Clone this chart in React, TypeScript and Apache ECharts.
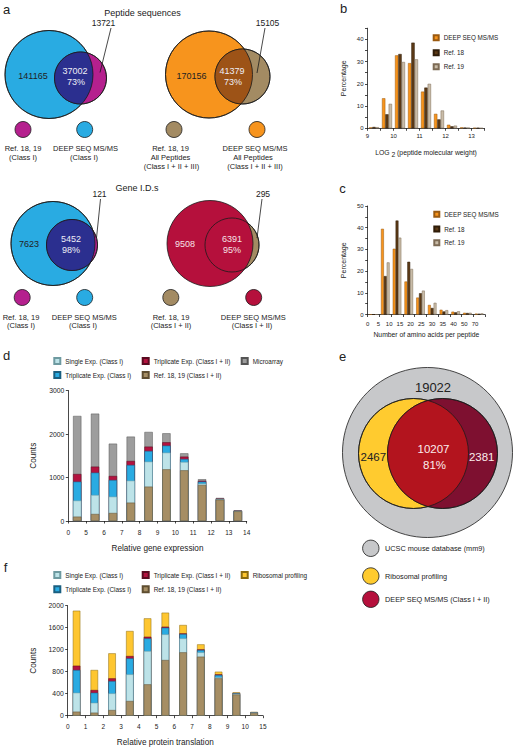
import React, { useEffect, useRef } from 'react';
import * as echarts from 'echarts';

const FONT = '"Liberation Sans", Arial, Helvetica, sans-serif';
const INK = '#222222';
const LINE = '#1a1a1a';

// ---------- Panel a : Venn counts ----------
const pepClassI = [141165, 37002, 13721]; // DEEP SEQ only, shared, Ref only
const pepClassIShare = '73%';
const pepAll = [170156, 41379, 15105];
const pepAllShare = '73%';
const geneClassI = [7623, 5452, 121];
const geneClassIShare = '98%';
const geneClassI_II = [9508, 6391, 295];
const geneClassI_IIShare = '95%';

// ---------- Panel b ----------
const bBins = ['9', '9.5', '10', '10.5', '11', '11.5', '12', '12.5', '13'];
const bTickLabels = ['9', '10', '11', '12', '13'];
const bDeep = [0.4, 13.5, 32.8, 29.3, 16.5, 6.5, 1.6, 0.4, 0.2];
const bRef18 = [0.6, 6.3, 33.4, 38.5, 18.3, 4.0, 0.9, 0.3, 0.2];
const bRef19 = [0.5, 11.0, 29.8, 31.0, 20.0, 8.0, 1.2, 0.3, 0.1];

// ---------- Panel c ----------
const cBins = ['0-5', '5-10', '10-15', '15-20', '20-25', '25-30', '30-35', '35-40', '40-50', '50-70'];
const cTickLabels = ['0', '5', '10', '15', '20', '25', '30', '35', '40', '50', '70'];
const cDeep = [0, 39.5, 30.3, 15.2, 7.8, 4.4, 2.2, 1.3, 0.8, 0.4];
const cRef18 = [0, 17.7, 43.3, 24.3, 9.8, 3.0, 1.4, 1.0, 0.7, 0.3];
const cRef19 = [0, 24.0, 35.4, 21.0, 11.0, 5.4, 2.0, 1.5, 0.8, 0.5];

// ---------- Panel d ----------
const dBins = ['0-5', '5-6', '6-7', '7-8', '8-9', '9-10', '10-11', '11-12', '12-13', '13-14'];
const dTickLabels = ['0', '5', '6', '7', '8', '9', '10', '11', '12', '13', '14'];
const dMicroarray = [2415, 2468, 1778, 1940, 2047, 2016, 1556, 960, 530, 245];
const dTripI_II = [1080, 1250, 1035, 1380, 1710, 1810, 1480, 925, 515, 238];
const dTripI = [905, 1112, 943, 1288, 1610, 1733, 1426, 905, 505, 232];
const dSingle = [470, 598, 560, 928, 1365, 1572, 1357, 860, 500, 228];
const dRef = [100, 161, 184, 422, 790, 1188, 1165, 828, 490, 222];

// ---------- Panel e ----------
const eCounts = [19022, 2467, 10207, 2381]; // database only, ribosome only, shared, MS only
const eShare = '81%';
const eLegend = ['UCSC mouse database (mm9)', 'Ribosomal profiling', 'DEEP SEQ MS/MS (Class I + II)'];

// ---------- Panel f ----------
const fBins = ['0-1', '1-2', '2-3', '3-4', '4-5', '5-6', '6-7', '7-8', '8-9', '9-10', '10-15'];
const fTickLabels = ['0', '1', '2', '3', '4', '5', '6', '7', '8', '9', '10', '15'];
const fRibo = [1909, 831, 1134, 1540, 1770, 1873, 1649, 1297, 800, 425, 70];
const fTripI_II = [909, 467, 679, 1085, 1436, 1618, 1497, 1206, 752, 412, 62];
const fTripI = [831, 418, 630, 1043, 1406, 1600, 1485, 1194, 740, 408, 60];
const fSingle = [418, 236, 406, 752, 1176, 1479, 1406, 1152, 698, 400, 58];
const fRef = [73, 55, 103, 267, 570, 1012, 1152, 1073, 679, 385, 50];

const S_SINGLE = 'Single Exp. (Class I)';
const S_TRIPI = 'Triplicate Exp. (Class I)';
const S_TRIPII = 'Triplicate Exp. (Class I + II)';
const S_REF = 'Ref. 18, 19 (Class I + II)';
const S_MICRO = 'Microarray';
const S_RIBO = 'Ribosomal profiling';

const C = {
  orange: '#F7941D',
  brown: '#5C3A16',
  beige: '#C9BCA8',
  single: '#BDE3E8',
  tripI: '#2AABE2',
  tripII: '#B3123F',
  ref: '#A68E64',
  micro: '#9D9D9D',
  ribo: '#FEC630',
};

function lens(c1x: number, c1y: number, r1: number, c2x: number, c2y: number, r2: number, n = 60) {
  const dx = c2x - c1x, dy = c2y - c1y;
  const d = Math.hypot(dx, dy);
  const th = Math.atan2(dy, dx);
  const a1 = Math.acos((d * d + r1 * r1 - r2 * r2) / (2 * d * r1));
  const a2 = Math.acos((d * d + r2 * r2 - r1 * r1) / (2 * d * r2));
  const pts: number[][] = [];
  for (let i = 0; i <= n; i++) {
    const t = th - a1 + (2 * a1 * i) / n;
    pts.push([c1x + r1 * Math.cos(t), c1y + r1 * Math.sin(t)]);
  }
  for (let i = 0; i <= n; i++) {
    const t = th + Math.PI - a2 + (2 * a2 * i) / n;
    pts.push([c2x + r2 * Math.cos(t), c2y + r2 * Math.sin(t)]);
  }
  return pts;
}

const circ = (cx: number, cy: number, r: number, fill: string, lw = 0.8) => ({
  type: 'circle', silent: true, shape: { cx, cy, r },
  style: { fill, stroke: LINE, lineWidth: lw },
});
const ring = (cx: number, cy: number, r: number) => ({
  type: 'circle', silent: true, shape: { cx, cy, r },
  style: { fill: 'none', stroke: LINE, lineWidth: 0.8 },
});
const poly = (points: number[][], fill: string) => ({
  type: 'polygon', silent: true, shape: { points }, style: { fill, lineWidth: 0 },
});
const ln = (x1: number, y1: number, x2: number, y2: number) => ({
  type: 'line', silent: true, shape: { x1, y1, x2, y2 }, style: { stroke: LINE, lineWidth: 0.8 },
});
const tx = (text: string, x: number, y: number, fontSize: number, fill = INK, align = 'left') => ({
  type: 'text', silent: true, x, y,
  style: {
    text, fill, fontSize, fontFamily: FONT,
    align, verticalAlign: 'middle', textAlign: align, textVerticalAlign: 'middle',
  },
});
const txc = (text: string, x: number, y: number, fontSize: number, fill = INK) => tx(text, x, y, fontSize, fill, 'center');

function buildGraphic() {
  const W = '#EEEEF6';
  const els: any[] = [];
  // panel letters
  els.push(txc('a', 6.5, 9, 13), txc('b', 343.5, 8.5, 13), txc('c', 342.5, 188, 13));
  els.push(txc('d', 6.5, 355.5, 13), txc('e', 342.7, 356, 13), txc('f', 5.5, 567.3, 13));
  els.push(txc('Peptide sequences', 142.5, 12.5, 9), txc('Gene I.D.s', 137, 188, 9));

  // top-left Venn
  els.push(circ(49, 74.5, 44, '#29ABE2'), circ(80.5, 78, 26, '#B5208E'));
  els.push(poly(lens(49, 74.5, 44, 80.5, 78, 26), '#2B2F8F'));
  els.push(ring(49, 74.5, 44), ring(80.5, 78, 26));
  els.push(txc(String(pepClassI[0]), 33, 76, 9), txc(String(pepClassI[1]), 75, 71, 9, W), txc(pepClassIShare, 76, 82, 9, W));
  els.push(txc(String(pepClassI[2]), 103.5, 23, 8.5), ln(111, 28, 100, 72.5));

  // top-right Venn
  els.push(circ(209, 74.5, 43.5, C.orange), circ(242.5, 76.5, 27.5, '#A38B63'));
  els.push(poly(lens(209, 74.5, 43.5, 242.5, 76.5, 27.5), '#9D5317'));
  els.push(ring(209, 74.5, 43.5), ring(242.5, 76.5, 27.5));
  els.push(txc(String(pepAll[0]), 191.5, 76, 9), txc(String(pepAll[1]), 232, 71, 9, W), txc(pepAllShare, 233, 82, 9, W));
  els.push(txc(String(pepAll[2]), 267.5, 23, 8.5), ln(265, 28, 257, 73));

  // lower-left Venn
  els.push(circ(53, 243.5, 42, '#29ABE2'), circ(72, 245, 25.5, '#B5208E'));
  els.push(poly(lens(53, 243.5, 42, 72, 245, 25.5), '#2B2F8F'));
  els.push(ring(53, 243.5, 42), ring(72, 245, 25.5));
  els.push(txc(String(geneClassI[0]), 29, 244.3, 9), txc(String(geneClassI[1]), 71, 239.3, 9, W), txc(geneClassIShare, 71, 250, 9, W));
  els.push(txc(String(geneClassI[2]), 99.5, 194.3, 8.5), ln(100.5, 199, 96.5, 238));

  // lower-right Venn
  els.push(circ(232, 245, 27, '#A38B63'), circ(210, 243.5, 43, '#B5103C'), ring(232, 245, 27));
  const P = '#F6E2E7';
  els.push(txc(String(geneClassI_II[0]), 185, 244.3, 9, P), txc(String(geneClassI_II[1]), 232, 239.3, 9, P), txc(geneClassI_IIShare, 232, 250, 9, P));
  els.push(txc(String(geneClassI_II[2]), 263, 194.3, 8.5), ln(262, 199, 257, 238));

  // Venn legends (top)
  const LF = 7.5;
  els.push(circ(23, 129.5, 8, '#B5208E'), circ(84.7, 129.5, 8, '#29ABE2'), circ(174, 129.5, 8, '#A38B63'), circ(257, 129.5, 8, C.orange));
  els.push(txc('Ref. 18, 19', 23, 148.5, LF), txc('(Class I)', 23, 157.5, LF));
  els.push(txc('DEEP SEQ MS/MS', 85.5, 148.5, LF), txc('(Class I)', 84, 157.5, LF));
  els.push(txc('Ref. 18, 19', 170.5, 148.5, LF), txc('All Peptides', 170.5, 157.5, LF), txc('(Class I + II + III)', 171.5, 166.5, LF));
  els.push(txc('DEEP SEQ MS/MS', 255, 148.5, LF), txc('All Peptides', 253, 157.5, LF), txc('(Class I + II + III)', 255, 166.5, LF));
  // Venn legends (bottom)
  els.push(circ(22.2, 297.5, 8, '#B5208E'), circ(84.7, 297.5, 8, '#29ABE2'), circ(170.8, 297.5, 8, '#A38B63'), circ(253.7, 297.5, 8, '#B5103C'));
  els.push(txc('Ref. 18, 19', 21, 317, LF), txc('(Class I)', 21, 325.5, LF));
  els.push(txc('DEEP SEQ MS/MS', 84.3, 317, LF), txc('(Class I)', 83, 325.5, LF));
  els.push(txc('Ref. 18, 19', 171, 317, LF), txc('(Class I + II)', 171, 325.5, LF));
  els.push(txc('DEEP SEQ MS/MS', 253.3, 317, LF), txc('(Class I + II)', 252, 325.5, LF));

  // panel e
  els.push(circ(427.5, 452.5, 85, '#C7C8CA'), circ(413.5, 453.5, 55, '#FFCB2F'), circ(442.5, 453.5, 55, '#7E1030'));
  els.push(poly(lens(413.5, 453.5, 55, 442.5, 453.5, 55), '#B3141E'));
  els.push(ring(413.5, 453.5, 55), ring(442.5, 453.5, 55));
  const E = '#FBECEC';
  els.push(txc(String(eCounts[0]), 433, 387.3, 13), txc(String(eCounts[1]), 373.3, 456.7, 11.5));
  els.push(txc(String(eCounts[2]), 433.5, 449.3, 11.5, E), txc(eShare, 434.5, 465, 11.5, E), txc(String(eCounts[3]), 481.7, 456.7, 11.5, E));
  const eCol = ['#C7C8CA', '#FFCB2F', '#B5103C'];
  const eY = [548.3, 576, 599.3];
  eLegend.forEach((name, i) => {
    els.push(circ(370.8, eY[i], 8.2, eCol[i]), tx(name, 385, eY[i], 7.3));
  });
  return els;
}

const yAx = (gridIndex: number, max: number, interval: number, every: number, fontSize: number, name: string, nameGap: number, nameSize: number) => ({
  type: 'value', gridIndex, min: 0, max, interval,
  axisLine: { show: true, lineStyle: { color: LINE, width: 0.8 } },
  axisTick: { show: true, length: 2.5, lineStyle: { color: LINE, width: 0.8 } },
  axisLabel: { fontSize, color: INK, fontFamily: FONT, margin: 4, formatter: (v: number) => (Math.abs(v % every) < 1e-6 ? String(v) : '') },
  splitLine: { show: false },
  name, nameLocation: 'middle', nameGap, nameRotate: 90,
  nameTextStyle: { fontSize: nameSize, fontFamily: FONT, color: INK },
});

const catAx = (gridIndex: number, data: string[]) => ({
  type: 'category', gridIndex, data, position: 'bottom',
  axisLine: { show: true, onZero: false, lineStyle: { color: LINE, width: 0.8 } },
  axisTick: { show: true, length: 2.5, interval: 0, lineStyle: { color: LINE, width: 0.8 } },
  axisLabel: { show: false },
  splitLine: { show: false },
});

const labAx = (gridIndex: number, min: number, max: number, labels: string[], fontSize: number, margin: number, name: string, nameGap: number, nameSize: number) => ({
  type: 'value', gridIndex, min, max, interval: 1, position: 'bottom',
  axisLine: { show: false }, axisTick: { show: false }, splitLine: { show: false },
  axisLabel: {
    fontSize, color: INK, fontFamily: FONT, margin,
    formatter: (v: number) => {
      const i = Math.round(v - min);
      return Math.abs(v - min - i) < 1e-6 && i >= 0 && i < labels.length ? labels[i] : '';
    },
  },
  name, nameLocation: 'middle', nameGap,
  nameTextStyle: {
    fontSize: nameSize, fontFamily: FONT, color: INK,
    rich: { s: { fontSize: nameSize, fontFamily: FONT, color: INK, padding: [4, 0, 0, 0] } },
  },
});

const legendItem = (name: string, left: number, cy: number, size: number, fontSize: number) => ({
  data: [name], left, top: cy - 4, orient: 'horizontal', padding: 0, itemGap: 0,
  itemWidth: size, itemHeight: size, icon: 'rect', selectedMode: false,
  textStyle: { fontSize, fontFamily: FONT, color: INK, lineHeight: 8 },
});

const bar = (name: string, xi: number, yi: number, data: number[], color: string, border: string, extra: any) => ({
  type: 'bar', name, xAxisIndex: xi, yAxisIndex: yi, data,
  itemStyle: { color, borderColor: border, borderWidth: 0.5 },
  ...extra,
});

function buildOption() {
  const bx = { barGap: '0%', barCategoryGap: '23%' };
  const cx = { barGap: '0%', barCategoryGap: '27%' };
  const dx = { barGap: '-100%', barWidth: 8.3 };
  const fx = { barGap: '-100%', barWidth: 7.5 };
  return {
    animation: false,
    textStyle: { fontFamily: FONT },
    grid: [
      { left: 367.5, top: 28.2, width: 117, height: 100.1, outerBoundsMode: 'none' },
      { left: 367.7, top: 206, width: 117.3, height: 108.5, outerBoundsMode: 'none' },
      { left: 68.3, top: 390.5, width: 178.4, height: 130.5, outerBoundsMode: 'none' },
      { left: 67.7, top: 605.7, width: 195.25, height: 110, outerBoundsMode: 'none' },
    ],
    xAxis: [
      catAx(0, bBins),
      labAx(0, 9, 13.5, bTickLabels, 6, 5, 'LOG {s|2} (peptide molecular weight)', 19, 6.8),
      catAx(1, cBins),
      labAx(1, 0, 10.93, cTickLabels, 6, 6, 'Number of amino acids per peptide', 16, 6.8),
      catAx(2, dBins),
      labAx(2, 0, 10, dTickLabels, 6.5, 8, 'Relative gene expression', 23, 8.2),
      catAx(3, fBins),
      labAx(3, 0, 11, fTickLabels, 6.5, 7, 'Relative protein translation', 23, 8.2),
    ],
    yAxis: [
      yAx(0, 45, 5, 10, 6, 'Percentage', 20.5, 7),
      yAx(1, 50, 5, 10, 6, 'Percentage', 20.5, 7),
      yAx(2, 3000, 1000, 1000, 6.8, 'Counts', 31, 8.2),
      yAx(3, 2000, 400, 400, 6.8, 'Counts', 30.5, 8.2),
    ],
    legend: [
      legendItem('DEEP SEQ MS/MS', 432.7, 37.7, 5, 6.3),
      legendItem('Ref. 18', 432.7, 52.7, 5, 6.3),
      legendItem('Ref. 19', 432.7, 66.7, 5, 6.3),
      legendItem('DEEP SEQ MS/MS', 433.3, 214.3, 5, 6.3),
      legendItem('Ref. 18', 433.3, 229, 5, 6.3),
      legendItem('Ref. 19', 433.3, 242.7, 5, 6.3),
      legendItem(S_SINGLE, 53.3, 361, 6, 6.4),
      legendItem(S_TRIPI, 53.3, 375, 6, 6.4),
      legendItem(S_TRIPII, 141.7, 361, 6, 6.4),
      legendItem(S_REF, 141.7, 375, 6, 6.4),
      legendItem(S_MICRO, 240.7, 361, 6, 6.4),
      legendItem(S_SINGLE, 53.3, 575, 6, 6.4),
      legendItem(S_TRIPI, 53.3, 589.3, 6, 6.4),
      legendItem(S_TRIPII, 141.7, 575, 6, 6.4),
      legendItem(S_REF, 141.7, 589.3, 6, 6.4),
      legendItem(S_RIBO, 240.7, 575, 6, 6.4),
    ],
    series: [
      bar('DEEP SEQ MS/MS', 0, 0, bDeep, C.orange, '#9a5a10', bx),
      bar('Ref. 18', 0, 0, bRef18, C.brown, '#2e1c08', bx),
      bar('Ref. 19', 0, 0, bRef19, C.beige, '#7d6b55', bx),
      bar('DEEP SEQ MS/MS', 2, 1, cDeep, C.orange, '#9a5a10', cx),
      bar('Ref. 18', 2, 1, cRef18, C.brown, '#2e1c08', cx),
      bar('Ref. 19', 2, 1, cRef19, C.beige, '#7d6b55', cx),
      bar(S_MICRO, 4, 2, dMicroarray, C.micro, '#555555', dx),
      bar(S_TRIPII, 4, 2, dTripI_II, C.tripII, '#5a0a20', dx),
      bar(S_TRIPI, 4, 2, dTripI, C.tripI, '#1a5f80', dx),
      bar(S_SINGLE, 4, 2, dSingle, C.single, '#6e9aa0', dx),
      bar(S_REF, 4, 2, dRef, C.ref, '#5e4d30', dx),
      bar(S_RIBO, 6, 3, fRibo, C.ribo, '#8a6a10', fx),
      bar(S_TRIPII, 6, 3, fTripI_II, C.tripII, '#5a0a20', fx),
      bar(S_TRIPI, 6, 3, fTripI, C.tripI, '#1a5f80', fx),
      bar(S_SINGLE, 6, 3, fSingle, C.single, '#6e9aa0', fx),
      bar(S_REF, 6, 3, fRef, C.ref, '#5e4d30', fx),
    ],
    graphic: buildGraphic(),
  };
}

export default function App() {
  const ref = useRef<HTMLDivElement>(null);
  useEffect(() => {
    if (!ref.current) return;
    const chart = echarts.init(ref.current, undefined, { renderer: 'svg', width: 515, height: 750 });
    chart.setOption(buildOption() as any);
    return () => chart.dispose();
  }, []);
  return (
    <div
      ref={ref}
      style={{ position: 'absolute', left: 0, top: 0, width: 515, height: 750, background: '#ffffff' }}
    />
  );
}
